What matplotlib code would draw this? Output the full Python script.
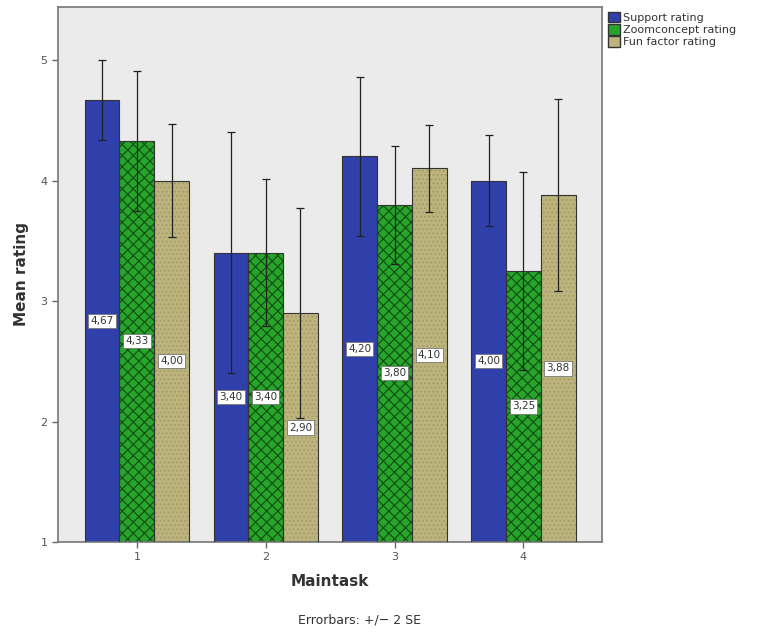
import matplotlib
matplotlib.use("Agg")
import matplotlib.pyplot as plt
from matplotlib.patches import Patch
import numpy as np

tasks = ["1", "2", "3", "4"]
series = ["Support rating", "Zoomconcept rating", "Fun factor rating"]
support = [4.67, 3.40, 4.20, 4.00]
zoomconcept = [4.33, 3.40, 3.80, 3.25]
funfactor = [4.00, 2.90, 4.10, 3.88]
support_err = [0.33, 1.00, 0.66, 0.38]
zoomconcept_err = [0.58, 0.61, 0.49, 0.82]
funfactor_err = [0.47, 0.87, 0.36, 0.80]

means = [support, zoomconcept, funfactor]
errs = [support_err, zoomconcept_err, funfactor_err]
faces = ["#2f40aa", "#27a52a", "#bdb47c"]
hatches = [None, "xxx", "...."]
hatch_cols = ["#2f40aa", "#124a13", "#a29b6e"]

plt.rcParams["hatch.linewidth"] = 0.8

fig = plt.figure(figsize=(7.6, 6.37), dpi=100)
ax = fig.add_axes([58/760, 1-542/637, (602-58)/760, (542-7)/637])
ax.set_facecolor("#ebebeb")

x = np.arange(1, len(tasks) + 1)
width = 0.27
offsets = [-width, 0, width]

for i in range(3):
    xs = x + offsets[i]
    vals = np.array(means[i])
    # fill with hatch pattern
    ax.bar(xs, vals - 1, width, bottom=1, color=faces[i], hatch=hatches[i],
           edgecolor=hatch_cols[i], linewidth=0, zorder=2)
    # outline
    ax.bar(xs, vals - 1, width, bottom=1, fill=False, edgecolor="#333333",
           linewidth=0.8, zorder=3)
    ax.errorbar(xs, vals, yerr=errs[i], fmt="none", ecolor="#222222",
                elinewidth=0.9, capsize=3, capthick=0.9, zorder=4)
    for xi, v in zip(xs, vals):
        ax.text(xi, 1 + (v - 1) / 2, f"{v:.2f}".replace(".", ","),
                ha="center", va="center", fontsize=7.5, color="#333333",
                zorder=5,
                bbox=dict(boxstyle="square,pad=0.2", fc="white",
                          ec="#777777", lw=0.6))

ax.set_xlim(0.388, 4.61)
ax.set_ylim(1, 5.44)
ax.set_xticks(x)
ax.set_xticklabels(tasks)
ax.set_yticks([1, 2, 3, 4, 5])
ax.tick_params(axis="both", labelsize=8, colors="#666666", length=4,
               width=1, direction="out", labelcolor="#555555")
for s in ax.spines.values():
    s.set_color("#777777")
    s.set_linewidth(1.2)

ax.set_ylabel("Mean rating", fontsize=11, fontweight="bold", color="#333333",
              labelpad=8)
ax.set_xlabel("Maintask", fontsize=11, fontweight="bold", color="#333333",
              labelpad=8)
fig.text(360/760, 1-620/637, "Errorbars: +/\u2212 2 SE", ha="center",
         va="center", fontsize=9, color="#333333")

# legend outside the plot at upper right
handles = [Patch(facecolor=faces[i], edgecolor="#333333",
                 hatch=None if i == 0 else ("x" if i == 1 else "."),
                 label=series[i]) for i in range(3)]
fig.legend(handles=handles, loc="upper left",
           bbox_to_anchor=(600/760, 1-4/637), frameon=False, fontsize=8,
           handlelength=1.1, handleheight=1.1, handletextpad=0.3,
           labelspacing=0.1, borderpad=0.2, labelcolor="#333333")

fig.savefig("out.png", dpi=100)
